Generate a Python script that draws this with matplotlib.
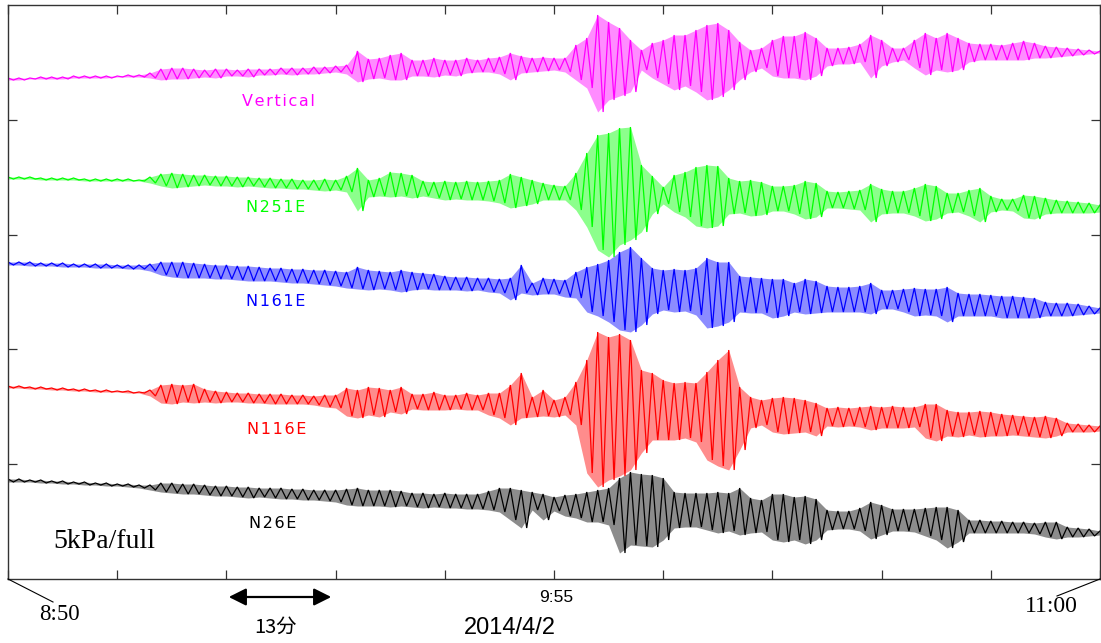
import numpy as np
import matplotlib
matplotlib.use("Agg")
import matplotlib.pyplot as plt
from matplotlib.lines import Line2D
from matplotlib.patches import FancyArrowPatch

# ---------------- data ----------------
# time axis: minutes after 8:50, one reading every 1.3 min (10 per 13-min tick)
step_min = 1.3
n_samples = 101
sample_time = np.arange(n_samples) * step_min

# trace extents per sample (chart rows, top of plot = 5, bottom = 579): upper / lower
vert_top = [78,78,78,77,77,77,76,76,76,76,76,75,75,73,69,68,68,69,70,69,69,70,69,69,69,68,68,68,67,67,66,65,51,59,58,55,53,60,60,58,60,60,58,60,58,57,53,56,58,57,58,58,45,38,15,22,28,40,50,43,40,35,35,30,25,23,30,42,50,48,40,36,36,32,38,48,48,47,44,35,40,48,48,40,33,38,33,38,43,44,44,45,43,41,43,46,47,48,49,50,51]
vert_bot = [80,80,79,79,79,79,78,78,78,78,77,77,77,78,80,79,79,78,77,78,76,76,77,75,75,74,75,74,74,73,72,74,82,79,78,80,80,76,76,77,75,76,73,72,72,74,80,73,72,71,70,72,80,88,112,100,96,92,70,78,84,90,86,92,100,97,90,80,72,68,76,78,78,80,76,66,64,64,62,78,66,62,60,68,75,70,72,70,62,60,60,60,60,60,58,58,57,56,55,54,53]

n251_top = [177,177,177,178,178,178,178,179,179,179,179,179,180,177,174,173,174,175,175,176,176,177,177,178,178,179,179,180,180,179,180,176,168,180,178,172,173,175,181,182,181,182,181,182,181,180,174,177,180,183,185,186,173,153,135,133,128,127,165,176,187,175,172,167,165,166,178,181,180,182,186,186,185,181,183,191,192,191,190,184,189,191,191,188,184,186,193,193,190,188,196,199,199,195,196,198,200,201,202,203,205]
n251_bot = [179,179,179,180,180,180,180,181,181,181,181,181,181,183,186,188,187,186,185,186,186,187,186,187,188,188,189,189,190,191,190,192,211,197,196,197,196,198,196,198,200,199,200,200,201,203,208,206,204,200,200,200,210,227,250,257,245,240,232,214,204,212,217,226,228,226,214,213,216,215,211,211,214,219,217,208,208,209,210,222,214,213,213,216,221,219,213,212,216,222,212,210,211,218,219,214,213,213,213,213,212]

n161_top = [262,262,262,263,263,263,264,264,264,264,265,265,265,264,262,262,262,263,264,265,265,266,266,267,268,268,269,269,270,270,271,272,267,270,271,272,270,272,273,274,276,277,277,278,278,279,278,265,283,278,279,280,272,267,264,260,252,247,258,268,270,269,270,268,258,262,262,276,277,278,279,279,283,279,281,286,287,287,286,283,290,290,289,288,289,289,287,293,294,294,295,296,296,297,298,302,303,303,304,306,308]
n161_bot = [265,265,266,266,266,267,267,267,268,268,268,269,269,271,275,277,278,278,278,279,279,280,281,281,281,282,283,283,284,285,286,288,289,290,289,290,292,290,289,290,290,290,291,290,292,293,300,293,295,294,294,297,298,312,316,322,330,332,325,314,310,312,311,315,328,326,322,312,313,313,318,316,312,314,313,312,312,312,312,314,309,309,312,316,315,316,322,316,316,316,316,318,318,318,318,316,316,316,315,314,313]

n116_top = [386,386,387,387,388,388,389,389,390,390,391,391,392,390,385,384,385,384,389,391,392,393,393,394,394,394,395,395,396,395,395,388,390,387,388,390,387,394,394,392,395,395,393,395,393,393,385,373,397,390,400,397,382,360,332,337,334,340,370,373,380,383,382,383,372,360,350,387,397,400,398,397,398,400,403,408,407,408,407,406,407,406,407,407,404,404,410,412,412,411,412,414,415,416,417,416,418,423,424,425,426]
n116_bot = [388,388,389,389,390,390,391,391,392,392,392,393,393,396,403,404,402,403,402,403,402,402,403,403,404,404,404,404,405,407,408,416,418,415,417,412,414,409,410,410,410,409,410,410,415,418,425,418,417,416,417,415,425,473,487,480,476,470,453,440,440,440,438,442,460,466,470,450,428,425,432,434,433,432,436,426,427,426,427,430,428,428,428,427,438,441,436,437,435,437,436,436,435,436,437,438,436,432,432,432,431]

n26_top = [479,479,480,480,481,481,482,482,483,483,484,484,485,485,483,483,484,484,485,486,486,487,487,488,488,488,489,489,490,490,490,489,488,490,490,490,491,493,493,494,493,494,494,494,491,488,488,490,492,494,497,495,494,492,490,488,478,472,474,475,478,492,493,493,493,492,493,488,498,500,494,494,497,496,499,510,511,511,508,502,505,509,509,509,508,507,507,510,520,520,521,521,522,522,523,522,522,527,528,529,531]
n26_bot = [482,482,482,483,483,484,484,485,485,486,486,487,488,490,492,493,494,494,495,496,496,497,498,497,498,499,499,500,500,501,502,505,506,506,506,507,506,507,508,507,508,508,509,509,510,512,520,528,510,520,511,516,518,522,522,525,553,545,546,547,540,528,527,527,530,533,531,535,533,532,540,542,540,544,540,530,529,529,531,539,535,531,531,532,536,540,548,542,533,533,533,533,533,533,534,537,539,537,537,536,535]

trace_names = ["Vertical", "N251E", "N161E", "N116E", "N26E"]
trace_colors = ["#ff00ff", "#00ff00", "#0000ff", "#ff0000", "#000000"]
trace_tops = [vert_top, n251_top, n161_top, n116_top, n26_top]
trace_bots = [vert_bot, n251_bot, n161_bot, n116_bot, n26_bot]

x_tick_minutes = np.arange(0, 131, 13)
y_tick_rows = [119.8, 234.6, 349.4, 464.2]

# ---------------- figure ----------------
W, H = 1101, 643
fig = plt.figure(figsize=(W / 100, H / 100), dpi=100)
L, R, T, B = 8, 1100, 5, 579
ax = fig.add_axes([L / W, 1 - B / H, (R - L) / W, (B - T) / H])
ax.set_xlim(0, 130)
ax.set_ylim(B, T)

half = step_min / 2
for name, col, top, bot in zip(trace_names, trace_colors, trace_tops, trace_bots):
    top = np.asarray(top, float)
    bot = np.asarray(bot, float)
    ax.fill_between(sample_time, top, bot, color=col, alpha=0.45, lw=0)
    zx = np.column_stack([sample_time, sample_time + half]).ravel()
    zy = np.column_stack([top, bot]).ravel()
    keep = zx <= 130
    ax.plot(zx[keep], zy[keep], color=col, lw=0.9, solid_joinstyle="miter")

spine_col = "#333333"
for s in ax.spines.values():
    s.set_color(spine_col)
    s.set_linewidth(1.0)
ax.set_xticks(x_tick_minutes)
ax.set_yticks(y_tick_rows)
ax.tick_params(axis="both", direction="in", length=6.5, width=0.9, color=spine_col,
               top=True, right=True, labelbottom=False, labelleft=False)

# trace labels (slightly letter-spaced like the original)
hair = "\u200a"
label_pos = [(278, 101), (276, 207), (276, 302), (277, 430), (273, 523)]
for name, col, (px, py) in zip(trace_names, trace_colors, label_pos):
    fig.text(px / W, 1 - py / H, hair.join(name), color=col, ha="center", va="center",
             fontsize=11.5, family="DejaVu Sans")

fig.text(53 / W, 1 - 548 / H, "5kPa/full", ha="left", va="baseline",
         fontsize=20, family="Liberation Serif")

# bottom annotations
fig.text(59 / W, 1 - 614 / H, "8:50", ha="center", va="center",
         fontsize=16.5, family="Liberation Serif")
fig.text(1051 / W, 1 - 607 / H, "11:00", ha="center", va="center",
         fontsize=17, family="Liberation Serif")
fig.text(556 / W, 1 - 597 / H, "9:55", ha="center", va="center",
         fontsize=12.5, family="Liberation Sans")
fig.text(510 / W, 1 - 628 / H, "2014/4/2", ha="center", va="center",
         fontsize=17, family="Liberation Sans")
fig.text(275 / W, 1 - 627 / H, "13分", ha="center", va="center",
         fontsize=14.5, family=["Noto Sans CJK JP", "DejaVu Sans"])

fig.add_artist(Line2D([8 / W, 53 / W], [1 - 579 / H, 1 - 602 / H], color="black", lw=0.8))
fig.add_artist(Line2D([1100 / W, 1057 / W], [1 - 579 / H, 1 - 596 / H], color="black", lw=0.8))

fig.add_artist(FancyArrowPatch(
    (226 / W, 1 - 597 / H), (334 / W, 1 - 597 / H), transform=fig.transFigure,
    arrowstyle="<|-|>,head_length=7,head_width=3.5", color="black", lw=1.6,
    mutation_scale=1.5))

fig.savefig("out.png", dpi=100)
